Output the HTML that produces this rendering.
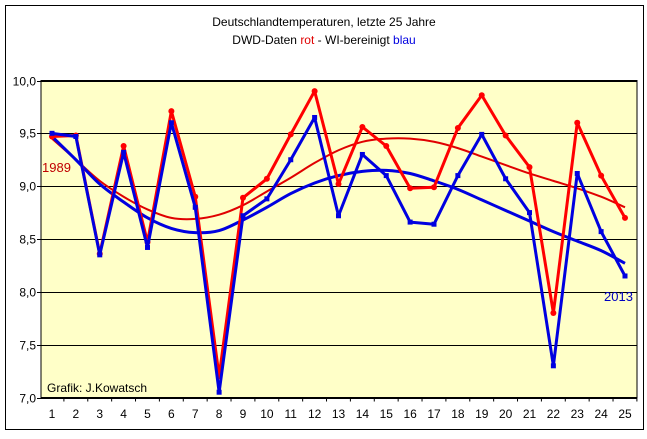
<!DOCTYPE html>
<html><head><meta charset="utf-8"><style>
body{margin:0;background:#fff;font-family:"Liberation Sans",Arial,sans-serif;}
svg text{font-family:"Liberation Sans",Arial,sans-serif;}
</style></head><body>
<svg id="c" width="647" height="434" xmlns="http://www.w3.org/2000/svg">
<rect x="5.5" y="5.5" width="638" height="424" fill="#fff" stroke="#000"/>
<text x="324" y="26" font-size="12" text-anchor="middle">Deutschlandtemperaturen, letzte 25 Jahre</text>
<text x="324" y="44" font-size="12" text-anchor="middle">DWD-Daten <tspan fill="#e00000">rot</tspan> - WI-bereinigt <tspan fill="#0000e0">blau</tspan></text>
<g id="plot"></g>
</svg>
<script>
const categories=[1,2,3,4,5,6,7,8,9,10,11,12,13,14,15,16,17,18,19,20,21,22,23,24,25];
const redValues=[9.47,9.48,8.36,9.38,8.47,9.71,8.9,7.2,8.89,9.07,9.49,9.9,9.02,9.56,9.38,8.98,8.99,9.55,9.86,9.48,9.18,7.8,9.6,9.1,8.7];
const blueValues=[9.5,9.47,8.35,9.32,8.42,9.6,8.8,7.05,8.72,8.88,9.25,9.65,8.72,9.3,9.1,8.66,8.64,9.1,9.49,9.07,8.75,7.3,9.12,8.57,8.15];
const redTrend=[9.45,9.25,9.05,8.9,8.78,8.7,8.69,8.73,8.82,8.95,9.08,9.22,9.34,9.42,9.45,9.45,9.42,9.36,9.28,9.2,9.12,9.05,8.98,8.9,8.8];
const blueTrend=[9.47,9.25,9.02,8.85,8.7,8.6,8.56,8.58,8.68,8.8,8.93,9.03,9.1,9.14,9.15,9.12,9.05,8.97,8.87,8.77,8.67,8.57,8.48,8.39,8.27];
const yTicks=[7.0,7.5,8.0,8.5,9.0,9.5,10.0];
const yTickLabels=["7,0","7,5","8,0","8,5","9,0","9,5","10,0"];
const L=41,R=637,T=80.5,B=397.5;
const NS="http://www.w3.org/2000/svg";
const g=document.getElementById('plot');
function yS(v){return B-(v-7)/3*(B-T);}
function xS(i){return 52+i*(625-52)/24;}
function mk(t,a,p){const e=document.createElementNS(NS,t);for(const k in a)e.setAttribute(k,a[k]);(p||g).appendChild(e);return e;}
const bg=mk('rect',{x:L,y:T,width:R-L,height:B-T,fill:'#ffffc8',stroke:'#000'});


yTicks.forEach((v,i)=>{
  const y=Math.round(yS(v))+0.5;
  const gl=mk('line',{x1:L-4,x2:R,y1:y,y2:y,stroke:'#000','stroke-width':1});
  
  
  const t=mk('text',{x:L-5,y:y+4,'font-size':12,'text-anchor':'end'});
  t.textContent=yTickLabels[i];
  
  
});
categories.forEach((c,i)=>{
  const t=mk('text',{x:xS(i),y:418,'font-size':12,'text-anchor':'middle'});
  t.textContent=c;
  
  
  const tk=mk('line',{x1:xS(i)+11.9,x2:xS(i)+11.9,y1:B,y2:B+4,stroke:'#000'});
  
  
});
function line(vals,col,w,name){
  const p=mk('polyline',{points:vals.map((v,i)=>xS(i)+','+yS(v)).join(' '),fill:'none',stroke:col,'stroke-width':w,'stroke-linejoin':'round'});
  
  
}
function smooth(vals,col,w,name){
  const pts=vals.map((v,i)=>[xS(i),yS(v)]);
  let d='M'+pts[0];
  for(let i=0;i<pts.length-1;i++){
    const p0=pts[Math.max(0,i-1)],p1=pts[i],p2=pts[i+1],p3=pts[Math.min(pts.length-1,i+2)];
    d+=' C'+(p1[0]+(p2[0]-p0[0])/6)+','+(p1[1]+(p2[1]-p0[1])/6)+' '+(p2[0]-(p3[0]-p1[0])/6)+','+(p2[1]-(p3[1]-p1[1])/6)+' '+p2[0]+','+p2[1];
  }
  const p=mk('path',{d:d,fill:'none',stroke:col,'stroke-width':w});
  
  
}
smooth(redTrend,'#e00000',2,'red-trend-line');
smooth(blueTrend,'#0000e0',3,'blue-trend-line');
line(redValues,'#ff0000',3,'red-series-line');
redValues.forEach((v,i)=>{const c=mk('circle',{cx:xS(i),cy:yS(v),r:3,fill:'#ff0000'});

});
line(blueValues,'#0000e0',3,'blue-series-line');
blueValues.forEach((v,i)=>{const c=mk('rect',{x:xS(i)-2.5,y:yS(v)-2.5,width:5,height:5,fill:'#0000e0'});

});
const a=mk('text',{x:42,y:172,'font-size':13,fill:'#c00000'});a.textContent='1989';


const b=mk('text',{x:604,y:301,'font-size':13,fill:'#0000c0'});b.textContent='2013';


const cr=mk('text',{x:47,y:392,'font-size':12});cr.textContent='Grafik: J.Kowatsch';


</script>
</body></html>
